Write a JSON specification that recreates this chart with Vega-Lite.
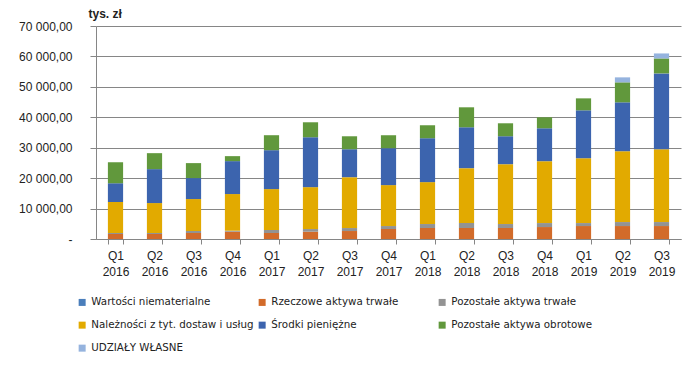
{
  "$schema": "https://vega.github.io/schema/vega-lite/v6.json",
  "width": 585,
  "height": 213,
  "autosize": {"type": "none"},
  "padding": {"left": 96, "top": 26, "right": 15, "bottom": 129},
  "background": "white",
  "config": {
    "locale": {"number": {"decimal": ",", "thousands": " ", "grouping": [3], "currency": ["", ""]}},
    "font": "Liberation Sans",
    "view": {"stroke": null}
  },
  "data": {
    "values": [
      {"q": "Q1 2016", "s": "Rzeczowe aktywa trwałe", "v": 1640},
      {"q": "Q1 2016", "s": "Pozostałe aktywa trwałe", "v": 330},
      {"q": "Q1 2016", "s": "Należności z tyt. dostaw i usług", "v": 10160},
      {"q": "Q1 2016", "s": "Środki pieniężne", "v": 6230},
      {"q": "Q1 2016", "s": "Pozostałe aktywa obrotowe", "v": 6890},
      {"q": "Q2 2016", "s": "Rzeczowe aktywa trwałe", "v": 1640},
      {"q": "Q2 2016", "s": "Pozostałe aktywa trwałe", "v": 330},
      {"q": "Q2 2016", "s": "Należności z tyt. dostaw i usług", "v": 9840},
      {"q": "Q2 2016", "s": "Środki pieniężne", "v": 11150},
      {"q": "Q2 2016", "s": "Pozostałe aktywa obrotowe", "v": 5250},
      {"q": "Q3 2016", "s": "Rzeczowe aktywa trwałe", "v": 1970},
      {"q": "Q3 2016", "s": "Pozostałe aktywa trwałe", "v": 660},
      {"q": "Q3 2016", "s": "Należności z tyt. dostaw i usług", "v": 10500},
      {"q": "Q3 2016", "s": "Środki pieniężne", "v": 6890},
      {"q": "Q3 2016", "s": "Pozostałe aktywa obrotowe", "v": 4920},
      {"q": "Q4 2016", "s": "Rzeczowe aktywa trwałe", "v": 2400},
      {"q": "Q4 2016", "s": "Pozostałe aktywa trwałe", "v": 330},
      {"q": "Q4 2016", "s": "Należności z tyt. dostaw i usług", "v": 12040},
      {"q": "Q4 2016", "s": "Środki pieniężne", "v": 10820},
      {"q": "Q4 2016", "s": "Pozostałe aktywa obrotowe", "v": 1640},
      {"q": "Q1 2017", "s": "Rzeczowe aktywa trwałe", "v": 1970},
      {"q": "Q1 2017", "s": "Pozostałe aktywa trwałe", "v": 980},
      {"q": "Q1 2017", "s": "Należności z tyt. dostaw i usług", "v": 13450},
      {"q": "Q1 2017", "s": "Środki pieniężne", "v": 12790},
      {"q": "Q1 2017", "s": "Pozostałe aktywa obrotowe", "v": 4920},
      {"q": "Q2 2017", "s": "Rzeczowe aktywa trwałe", "v": 2400},
      {"q": "Q2 2017", "s": "Pozostałe aktywa trwałe", "v": 870},
      {"q": "Q2 2017", "s": "Należności z tyt. dostaw i usług", "v": 13770},
      {"q": "Q2 2017", "s": "Środki pieniężne", "v": 16400},
      {"q": "Q2 2017", "s": "Pozostałe aktywa obrotowe", "v": 4920},
      {"q": "Q3 2017", "s": "Rzeczowe aktywa trwałe", "v": 2620},
      {"q": "Q3 2017", "s": "Pozostałe aktywa trwałe", "v": 980},
      {"q": "Q3 2017", "s": "Należności z tyt. dostaw i usług", "v": 16720},
      {"q": "Q3 2017", "s": "Środki pieniężne", "v": 9180},
      {"q": "Q3 2017", "s": "Pozostałe aktywa obrotowe", "v": 4260},
      {"q": "Q4 2017", "s": "Rzeczowe aktywa trwałe", "v": 3280},
      {"q": "Q4 2017", "s": "Pozostałe aktywa trwałe", "v": 980},
      {"q": "Q4 2017", "s": "Należności z tyt. dostaw i usług", "v": 13450},
      {"q": "Q4 2017", "s": "Środki pieniężne", "v": 12130},
      {"q": "Q4 2017", "s": "Pozostałe aktywa obrotowe", "v": 4260},
      {"q": "Q1 2018", "s": "Rzeczowe aktywa trwałe", "v": 3610},
      {"q": "Q1 2018", "s": "Pozostałe aktywa trwałe", "v": 1310},
      {"q": "Q1 2018", "s": "Należności z tyt. dostaw i usług", "v": 13770},
      {"q": "Q1 2018", "s": "Środki pieniężne", "v": 14430},
      {"q": "Q1 2018", "s": "Pozostałe aktywa obrotowe", "v": 4260},
      {"q": "Q2 2018", "s": "Rzeczowe aktywa trwałe", "v": 3610},
      {"q": "Q2 2018", "s": "Pozostałe aktywa trwałe", "v": 1640},
      {"q": "Q2 2018", "s": "Należności z tyt. dostaw i usług", "v": 18030},
      {"q": "Q2 2018", "s": "Środki pieniężne", "v": 13440},
      {"q": "Q2 2018", "s": "Pozostałe aktywa obrotowe", "v": 6560},
      {"q": "Q3 2018", "s": "Rzeczowe aktywa trwałe", "v": 3610},
      {"q": "Q3 2018", "s": "Pozostałe aktywa trwałe", "v": 1310},
      {"q": "Q3 2018", "s": "Należności z tyt. dostaw i usług", "v": 19670},
      {"q": "Q3 2018", "s": "Środki pieniężne", "v": 9180},
      {"q": "Q3 2018", "s": "Pozostałe aktywa obrotowe", "v": 4260},
      {"q": "Q4 2018", "s": "Rzeczowe aktywa trwałe", "v": 3930},
      {"q": "Q4 2018", "s": "Pozostałe aktywa trwałe", "v": 1310},
      {"q": "Q4 2018", "s": "Należności z tyt. dostaw i usług", "v": 20330},
      {"q": "Q4 2018", "s": "Środki pieniężne", "v": 10820},
      {"q": "Q4 2018", "s": "Pozostałe aktywa obrotowe", "v": 3610},
      {"q": "Q1 2019", "s": "Rzeczowe aktywa trwałe", "v": 4260},
      {"q": "Q1 2019", "s": "Pozostałe aktywa trwałe", "v": 980},
      {"q": "Q1 2019", "s": "Należności z tyt. dostaw i usług", "v": 21310},
      {"q": "Q1 2019", "s": "Środki pieniężne", "v": 15740},
      {"q": "Q1 2019", "s": "Pozostałe aktywa obrotowe", "v": 3930},
      {"q": "Q2 2019", "s": "Rzeczowe aktywa trwałe", "v": 4260},
      {"q": "Q2 2019", "s": "Pozostałe aktywa trwałe", "v": 1310},
      {"q": "Q2 2019", "s": "Należności z tyt. dostaw i usług", "v": 23280},
      {"q": "Q2 2019", "s": "Środki pieniężne", "v": 16070},
      {"q": "Q2 2019", "s": "Pozostałe aktywa obrotowe", "v": 6560},
      {"q": "Q2 2019", "s": "UDZIAŁY WŁASNE", "v": 1640},
      {"q": "Q3 2019", "s": "Rzeczowe aktywa trwałe", "v": 4260},
      {"q": "Q3 2019", "s": "Pozostałe aktywa trwałe", "v": 1310},
      {"q": "Q3 2019", "s": "Należności z tyt. dostaw i usług", "v": 23930},
      {"q": "Q3 2019", "s": "Środki pieniężne", "v": 24920},
      {"q": "Q3 2019", "s": "Pozostałe aktywa obrotowe", "v": 4920},
      {"q": "Q3 2019", "s": "UDZIAŁY WŁASNE", "v": 1640},
      {"q": "Q1 2016", "s": "Wartości niematerialne", "v": 0}
    ]
  },
  "transform": [
    {"calculate": "indexof(['Wartości niematerialne', 'Rzeczowe aktywa trwałe', 'Pozostałe aktywa trwałe', 'Należności z tyt. dostaw i usług', 'Środki pieniężne', 'Pozostałe aktywa obrotowe', 'UDZIAŁY WŁASNE'], datum.s)", "as": "o"}
  ],
  "mark": {"type": "bar"},
  "encoding": {
    "x": {
      "field": "q",
      "type": "nominal",
      "sort": null,
      "scale": {"paddingInner": 0.61, "paddingOuter": 0.305},
      "axis": {
        "title": null,
        "labelAngle": 0,
        "labelExpr": "split(datum.label, ' ')",
        "labelFontSize": 12,
        "labelColor": "#222",
        "labelLineHeight": 16,
        "labelBaseline": "top",
        "labelPadding": 6,
        "tickBand": "extent",
        "tickSize": 5,
        "tickColor": "#868686",
        "domainColor": "#868686",
        "grid": false
      }
    },
    "y": {
      "field": "v",
      "type": "quantitative",
      "stack": "zero",
      "scale": {"domain": [0, 70000], "nice": false},
      "axis": {
        "title": "tys. zł",
        "titleAngle": 0,
        "titleAlign": "left",
        "titleBaseline": "middle",
        "titleX": -8,
        "titleY": -13,
        "titleFontSize": 12,
        "titleFontWeight": "bold",
        "titleColor": "#222",
        "values": [0, 10000, 20000, 30000, 40000, 50000, 60000, 70000],
        "format": ",.2f",
        "labelExpr": "datum.value == 0 ? '-\u00a0\u00a0\u00a0\u00a0' : datum.label",
        "labelFontSize": 12,
        "labelColor": "#222",
        "labelPadding": 18,
        "tickSize": 6,
        "tickColor": "#868686",
        "domainColor": "#868686",
        "gridColor": "#868686",
        "gridWidth": 1
      }
    },
    "color": {
      "field": "s",
      "type": "nominal",
      "sort": ["Wartości niematerialne", "Rzeczowe aktywa trwałe", "Pozostałe aktywa trwałe", "Należności z tyt. dostaw i usług", "Środki pieniężne", "Pozostałe aktywa obrotowe", "UDZIAŁY WŁASNE"],
      "scale": {
        "range": ["#4A7EBB", "#D26B2A", "#939393", "#E2AA00", "#3C64AE", "#61983C", "#95B3DE"]
      },
      "legend": {
        "title": null,
        "orient": "none",
        "direction": "horizontal",
        "legendX": -19,
        "legendY": 271,
        "columns": 3,
        "gridAlign": "all",
        "columnPadding": 3,
        "rowPadding": 12,
        "symbolType": "square",
        "symbolSize": 49,
        "symbolStrokeWidth": 0,
        "symbolOffset": 0,
        "labelOffset": 4,
        "labelFont": "DejaVu Sans",
        "labelFontSize": 10.3,
        "labelColor": "#222",
        "labelLimit": 300
      }
    },
    "order": {"field": "o", "type": "quantitative", "sort": "ascending"}
  }
}
